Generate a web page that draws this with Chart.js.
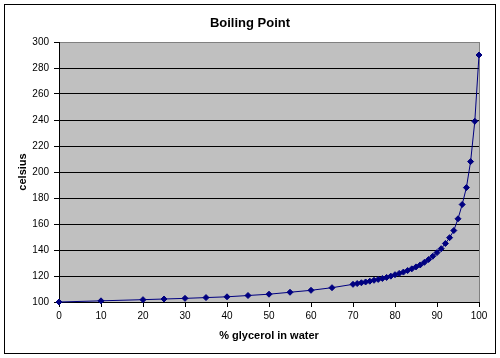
<!DOCTYPE html>
<html>
<head>
<meta charset="utf-8">
<script src="https://cdn.jsdelivr.net/npm/chart.js@4/dist/chart.umd.min.js"></script>
<style>
  html, body { margin: 0; padding: 0; background: #ffffff; }
  #wrap { width: 500px; height: 358px; position: relative; }
</style>
</head>
<body>
<div id="wrap"><canvas id="c" width="500" height="358"></canvas></div>
<script>
const chartTitle = "Boiling Point";
const xAxisTitle = "% glycerol in water";
const yAxisTitle = "celsius";
const glycerolPct = [0, 10, 20, 25, 30, 35, 40, 45, 50, 55, 60, 65, 70,
  71, 72, 73, 74, 75, 76, 77, 78, 79, 80,
  81, 82, 83, 84, 85, 86, 87, 88, 89, 90,
  91, 92, 93, 94, 95, 96, 97, 98, 99, 100];
const boilingC = [100, 100.9, 101.8, 102.3, 102.8, 103.4, 104, 105, 106, 107.5, 109, 111, 113.6,
  114.2, 114.8, 115.4, 116.0, 116.7, 117.4, 118.1, 118.9, 119.9, 121.0,
  122.0, 123.0, 124.2, 125.5, 127.0, 128.5, 130.5, 132.7, 135.2, 138.0,
  141.0, 145.0, 149.5, 155.0, 164.0, 175.0, 188.0, 208.0, 239.0, 290.0];
const xTicks = { min: 0, max: 100, step: 10 };
const yTicks = { min: 100, max: 300, step: 20 };

const points = glycerolPct.map((p, i) => ({ x: p, y: boilingC[i] }));

const framePlugin = {
  id: 'frame',
  beforeDraw(chart) {
    const { ctx, chartArea: a } = chart;
    ctx.save();
    ctx.fillStyle = '#ffffff';
    ctx.fillRect(0, 0, chart.width, chart.height);
    ctx.fillStyle = '#c0c0c0';
    ctx.fillRect(a.left, a.top, a.right - a.left, a.bottom - a.top);
    ctx.strokeStyle = '#808080';
    ctx.lineWidth = 1;
    ctx.beginPath();
    ctx.moveTo(Math.round(a.right) + 0.5, a.top);
    ctx.lineTo(Math.round(a.right) + 0.5, a.bottom);
    ctx.stroke();
    ctx.restore();
  },
  afterDraw(chart) {
    const { ctx } = chart;
    ctx.save();
    ctx.strokeStyle = '#000000';
    ctx.lineWidth = 1;
    ctx.strokeRect(4.5, 4.5, 491, 349);
    ctx.restore();
  }
};

new Chart(document.getElementById('c'), {
  type: 'line',
  data: {
    datasets: [{
      data: points,
      borderColor: '#000080',
      backgroundColor: '#000080',
      borderWidth: 1,
      tension: 0,
      pointStyle: 'rectRot',
      pointRadius: 3,
      pointBorderWidth: 1,
      pointBackgroundColor: '#000080',
      pointBorderColor: '#000080',
      clip: false
    }]
  },
  options: {
    responsive: false,
    animation: false,
    devicePixelRatio: 1,
    layout: { padding: { left: 4, right: 4, top: 4, bottom: 4 } },
    plugins: {
      legend: { display: false },
      tooltip: { enabled: false },
      title: {
        display: true,
        text: chartTitle,
        color: '#000000',
        font: { family: 'Liberation Sans, Arial, sans-serif', size: 13, weight: 'bold' },
        padding: { top: 12, bottom: 10.4 }
      }
    },
    scales: {
      x: {
        type: 'linear',
        min: xTicks.min,
        max: xTicks.max,
        afterFit(s) { s.height = 52; },
        ticks: {
          stepSize: xTicks.step,
          color: '#000000',
          padding: 3,
          maxRotation: 0,
          font: { family: 'Liberation Sans, Arial, sans-serif', size: 10 }
        },
        grid: {
          drawOnChartArea: false,
          drawTicks: true,
          tickLength: 5,
          tickColor: '#000000',
          color: '#000000'
        },
        border: { color: '#000000', width: 1 },
        title: {
          display: true,
          text: xAxisTitle,
          color: '#000000',
          font: { family: 'Liberation Sans, Arial, sans-serif', size: 11, weight: 'bold' },
          padding: { top: 0, bottom: 11.4 }
        }
      },
      y: {
        type: 'linear',
        min: yTicks.min,
        max: yTicks.max,
        afterFit(s) { s.width = 55; },
        ticks: {
          stepSize: yTicks.step,
          color: '#000000',
          padding: 5,
          font: { family: 'Liberation Sans, Arial, sans-serif', size: 10 }
        },
        grid: {
          drawTicks: true,
          tickLength: 5,
          tickColor: '#000000',
          color: (ctx) => (ctx.tick && ctx.tick.value === yTicks.max) ? '#808080' : '#000000'
        },
        border: { color: '#000000', width: 1 },
        title: {
          display: true,
          text: yAxisTitle,
          color: '#000000',
          font: { family: 'Liberation Sans, Arial, sans-serif', size: 11, weight: 'bold' },
          padding: { top: 12, bottom: 0 }
        }
      },
      yr: {
        type: 'linear',
        position: 'right',
        display: true,
        afterFit(s) { s.width = 17; },
        ticks: { display: false },
        grid: { display: false, drawTicks: false },
        border: { display: false }
      }
    }
  },
  plugins: [framePlugin]
});
</script>
</body>
</html>
